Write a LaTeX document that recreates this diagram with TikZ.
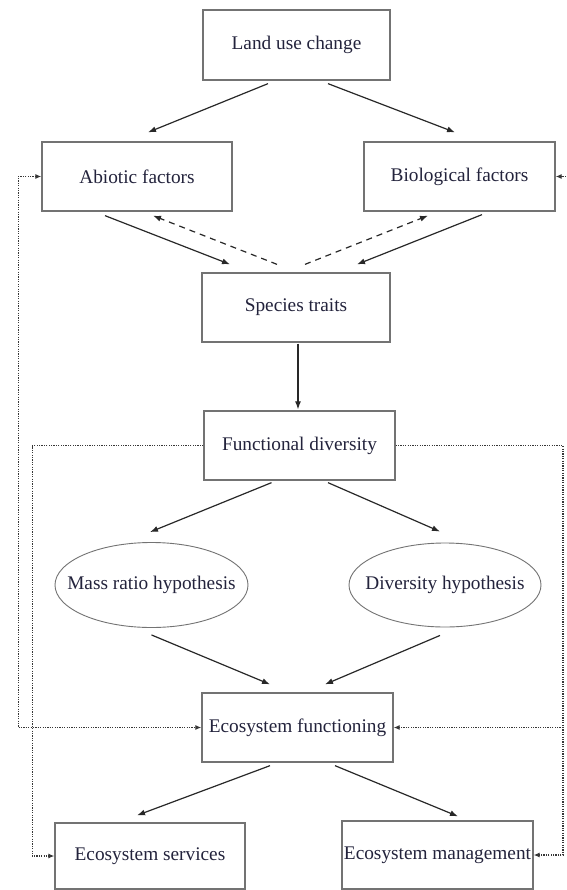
\documentclass[tikz,border=0pt]{standalone}
\usepackage{fontspec}
\setmainfont{Liberation Serif}
\usetikzlibrary{arrows.meta,shapes.geometric}
\definecolor{boxgray}{RGB}{115,115,115}
\definecolor{arrgray}{RGB}{40,40,40}
\definecolor{dotgray}{RGB}{55,55,55}
\definecolor{txt}{RGB}{35,35,60}
\tikzset{
  box/.style={draw=boxgray, line width=1.3pt, rectangle, inner sep=0pt, text=txt, font=\fontsize{19.3}{21}\selectfont},
  oval/.style={draw=boxgray, line width=0.9pt, ellipse, inner sep=0pt, text=txt, font=\fontsize{19.3}{21}\selectfont},
  arr/.style={draw=arrgray, line width=1.2pt, -{Latex[length=8pt,width=6pt]}},
  darr/.style={draw=arrgray, line width=1.2pt, dash pattern=on 6pt off 5pt, -{Latex[length=8pt,width=6pt]}},
  dotl/.style={draw=dotgray, line width=1.2pt, dash pattern=on 1.2pt off 1.2pt},
  dtip/.style={-{Latex[length=6pt,width=5pt]}},
}
\begin{document}
\begin{tikzpicture}[x=1pt,y=-1pt]
\useasboundingbox (0,0) rectangle (566,890);
\fill[white] (0,0) rectangle (566,890);
% nodes
\node[box, minimum width=187pt, minimum height=70pt] (land) at (296.5,45) {Land use change};
\node[box, minimum width=190pt, minimum height=69pt] (abiotic) at (137,176.5) {Abiotic factors};
\node[box, minimum width=191pt, minimum height=69pt] (bio) at (459.5,176.5) {Biological factors};
\node[box, minimum width=188pt, minimum height=69pt] (species) at (296,307.5) {Species traits};
\node[box, minimum width=191pt, minimum height=69pt] (func) at (299.5,445.5) {Functional diversity};
\node[oval, minimum width=193pt, minimum height=85pt] (mass) at (151.5,585) {\makebox[0pt]{Mass ratio hypothesis}};
\node[oval, minimum width=192pt, minimum height=84pt] (div) at (445,585) {\makebox[0pt]{Diversity hypothesis}};
\node[box, minimum width=191pt, minimum height=69pt] (ef) at (297.5,727.5) {Ecosystem functioning};
\node[box, minimum width=190pt, minimum height=66pt] (serv) at (150,856) {Ecosystem services};
\node[box, minimum width=191pt, minimum height=68pt] (mgmt) at (437.5,855) {Ecosystem management};
% solid arrows
\draw[arr] ([xshift=-28.5pt,yshift=-3pt]land.south) -- ([xshift=11pt,yshift=9pt]abiotic.north);
\draw[arr] ([xshift=31.5pt,yshift=-3pt]land.south) -- ([xshift=-4.5pt,yshift=9pt]bio.north);
\draw[arr] ([xshift=-32pt,yshift=-4pt]abiotic.south) -- ([xshift=-66pt,yshift=8pt]species.north);
\draw[arr] ([xshift=22.5pt,yshift=-3pt]bio.south) -- ([xshift=61pt,yshift=8pt]species.north);
\draw[darr] ([xshift=-19pt,yshift=8pt]species.north) -- ([xshift=16pt,yshift=-4pt]abiotic.south);
\draw[darr] ([xshift=9pt,yshift=8pt]species.north) -- ([xshift=-31.5pt,yshift=-4pt]bio.south);
\draw[arr] ([xshift=2pt,yshift=-1pt]species.south) -- ([xshift=-1.5pt,yshift=1pt]func.north);
\draw[arr] ([xshift=-28pt,yshift=-2pt]func.south) -- ([xshift=-1.5pt,yshift=10pt]mass.north);
\draw[arr] ([xshift=28.5pt,yshift=-2pt]func.south) -- ([xshift=-5pt,yshift=11pt]div.north);
\draw[arr] ([yshift=-7pt]mass.south) -- ([xshift=-27.5pt,yshift=8pt]ef.north);
\draw[arr] ([xshift=-5pt,yshift=-8pt]div.south) -- ([xshift=27.5pt,yshift=8pt]ef.north);
\draw[arr] ([xshift=-27.5pt,yshift=-3pt]ef.south) -- ([xshift=-13pt,yshift=7pt]serv.north);
\draw[arr] ([xshift=37.5pt,yshift=-3pt]ef.south) -- ([xshift=20.5pt,yshift=4pt]mgmt.north);
% dotted feedback lines
\draw[dotl, {Latex[length=6pt,width=5pt]}-{Latex[length=6pt,width=5pt]}] (abiotic.west) -- ++(-23,0) |- (ef.west);
\draw[dotl, dtip] (func.west) -- ++(-171,0) |- (serv.west);
\coordinate (rr) at (563,445.5);
\draw[dotl, dtip] (func.east) -- (rr) |- (mgmt.east);
\draw[dotl, dtip] (rr |- ef.east) -- (ef.east);
\coordinate (bioin) at (566,176.5);
\draw[dotl, dtip] (bioin) -- (bio.east);
\end{tikzpicture}
\end{document}
